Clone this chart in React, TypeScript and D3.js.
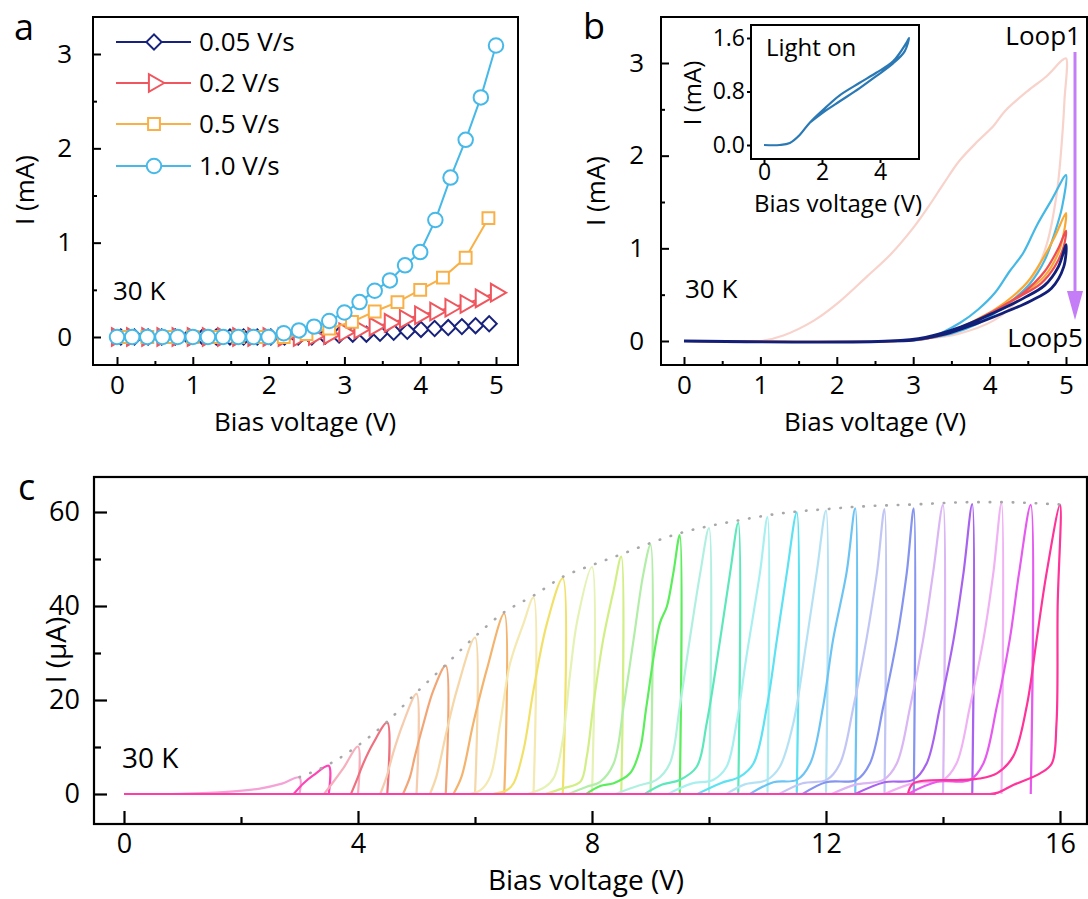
import React, { useRef, useEffect } from "react";
import * as d3 from "d3";

const FONT = "'Open Sans', sans-serif";

// ---------- panel a : I-V at different sweep rates ----------
const rateLabels = ["0.05 V/s", "0.2 V/s", "0.5 V/s", "1.0 V/s"];
const rateColors = ["#17227c", "#f0565e", "#f9b046", "#46b9e8"];
const rateSymbols = ["diamond", "triangle", "square", "circle"];

const diamondV = [0.05, 0.23, 0.41, 0.59, 0.77, 0.95, 1.13, 1.31, 1.49, 1.67, 1.85, 2.03, 2.21, 2.39, 2.57, 2.75, 2.93, 3.11, 3.29, 3.47, 3.65, 3.83, 4.01, 4.19, 4.37, 4.55, 4.73, 4.91];
const diamondI = [0, 0, 0, 0, 0, 0, 0, 0, 0, 0, 0, 0, 0, 0, 0, 0.01, 0.02, 0.03, 0.03, 0.04, 0.05, 0.06, 0.08, 0.09, 0.1, 0.11, 0.12, 0.14];
const triangleV = [0, 0.2, 0.4, 0.6, 0.8, 1.0, 1.2, 1.4, 1.6, 1.8, 2.0, 2.2, 2.4, 2.6, 2.8, 3.0, 3.2, 3.4, 3.6, 3.8, 4.0, 4.2, 4.4, 4.6, 4.8, 5.0];
const triangleI = [0, 0, 0, 0, 0, 0, 0, 0, 0, 0, 0, 0, 0, 0.01, 0.02, 0.05, 0.08, 0.11, 0.15, 0.19, 0.23, 0.27, 0.31, 0.35, 0.41, 0.47];
const squareV = [0.1, 0.4, 0.7, 1.0, 1.3, 1.6, 1.9, 2.2, 2.5, 2.8, 3.1, 3.4, 3.7, 4.0, 4.3, 4.6, 4.9];
const squareI = [0, 0, 0, 0, 0, 0, 0, 0, 0.03, 0.09, 0.16, 0.27, 0.37, 0.5, 0.63, 0.84, 1.26];
const circleV = [0, 0.2, 0.4, 0.6, 0.8, 1.0, 1.2, 1.4, 1.6, 1.8, 2.0, 2.2, 2.4, 2.6, 2.8, 3.0, 3.2, 3.4, 3.6, 3.8, 4.0, 4.2, 4.4, 4.6, 4.8, 5.0];
const circleI = [0, 0, 0, 0, 0, 0, 0, 0, 0, 0, 0, 0.04, 0.07, 0.11, 0.17, 0.26, 0.37, 0.49, 0.6, 0.76, 0.9, 1.24, 1.69, 2.09, 2.54, 3.09];

// ---------- panel b : five consecutive loops ----------
const loopNames = ["Loop1", "Loop2", "Loop3", "Loop4", "Loop5"];
const loopColors = ["#f7d3cb", "#45b8e6", "#f8a935", "#ee4d53", "#121f78"];
const loop1 = [[0, 0], [1.0, 0], [1.3, 0.06], [1.7, 0.22], [2.0, 0.4], [2.4, 0.7], [2.7, 0.93], [3.0, 1.22], [3.2, 1.45], [3.4, 1.7], [3.6, 1.94], [3.85, 2.16], [4.05, 2.32], [4.2, 2.48], [4.5, 2.7], [4.75, 2.86], [4.95, 3.03], [5.0, 3.05], [4.98, 2.6], [4.95, 2.2], [4.88, 1.6], [4.75, 1.05], [4.55, 0.65], [4.3, 0.38], [4.05, 0.22], [3.6, 0.08], [3.1, 0.02], [2.7, 0]];
const loop2 = [[0, 0], [2.8, 0], [3.2, 0.03], [3.62, 0.2], [3.85, 0.34], [4.07, 0.52], [4.26, 0.75], [4.44, 0.95], [4.62, 1.25], [4.81, 1.52], [5.0, 1.79], [4.95, 1.45], [4.85, 1.16], [4.72, 0.87], [4.53, 0.62], [4.3, 0.44], [4.07, 0.3], [3.85, 0.19], [3.5, 0.08], [3.0, 0.01], [2.8, 0]];
const loop3 = [[0, 0], [2.8, 0], [3.2, 0.03], [3.6, 0.14], [3.85, 0.24], [4.07, 0.34], [4.3, 0.48], [4.5, 0.64], [4.67, 0.85], [4.85, 1.12], [5.0, 1.38], [4.97, 1.16], [4.9, 0.95], [4.72, 0.7], [4.44, 0.51], [4.07, 0.33], [3.7, 0.16], [3.3, 0.05], [2.9, 0]];
const loop4 = [[0, 0], [2.8, 0], [3.2, 0.03], [3.62, 0.14], [4.07, 0.33], [4.44, 0.52], [4.72, 0.75], [4.9, 1.0], [5.0, 1.19], [4.97, 1.02], [4.85, 0.8], [4.67, 0.62], [4.35, 0.46], [4.0, 0.3], [3.6, 0.13], [3.2, 0.03], [2.8, 0]];
const loop5 = [[0, 0], [2.7, 0], [3.16, 0.04], [3.62, 0.15], [4.07, 0.31], [4.44, 0.46], [4.72, 0.6], [4.9, 0.8], [5.0, 1.04], [4.97, 0.8], [4.81, 0.57], [4.53, 0.43], [4.17, 0.3], [3.8, 0.18], [3.4, 0.07], [3.0, 0.01], [2.7, 0]];
const loopsB = [loop1, loop2, loop3, loop4, loop5];

// inset: light on
const insetLoop = [[0, 0], [0.54, 0], [0.89, 0.03], [1.23, 0.15], [1.57, 0.33], [2.15, 0.57], [2.6, 0.74], [3.3, 0.93], [3.87, 1.08], [4.45, 1.25], [4.9, 1.52], [5.0, 1.6], [4.85, 1.4], [4.45, 1.22], [3.87, 1.03], [3.3, 0.85], [2.6, 0.65], [2.15, 0.52], [1.57, 0.33]];

// ---------- panel c : loops with increasing max bias ----------
const cMaxV = [3.0, 3.5, 4.0, 4.5, 5.0, 5.5, 6.0, 6.5, 7.0, 7.5, 8.0, 8.5, 9.0, 9.5, 10.0, 10.5, 11.0, 11.5, 12.0, 12.5, 13.0, 13.5, 14.0, 14.5, 15.0, 15.5, 16.0];
const cColors = ["#f5a3d6", "#ff45b5", "#f6b0bd", "#ee717f", "#f5ccae", "#f2a676", "#f5d7a8", "#f4b46e", "#f4e9b0", "#f2e169", "#e4f2b4", "#d2ef86", "#b2eea8", "#5bee5b", "#b0f0e0", "#5de8bc", "#a8f0f0", "#5ce2f2", "#b4e2f4", "#6cc4f4", "#c2c6f4", "#8494ef", "#dab6f4", "#a862f0", "#f0b2f4", "#e65af0", "#ff3399"];
const cLoops = [
  [[0.8, 0], [1.7, 0.4], [2.3, 1.1], [2.7, 2.2], [3.0, 3.5], [3.0, 0]],
  [[2.9, 0], [3.07, 2.3], [3.24, 4.0], [3.5, 6.0], [3.5, 0]],
  [[3.42, 0], [3.58, 2.6], [3.75, 5.5], [4.0, 10.1], [4.0, 0]],
  [[3.88, 0], [3.98, 3.0], [4.09, 6.5], [4.26, 10.8], [4.5, 15.2], [4.5, 0]],
  [[4.38, 0], [4.49, 3.7], [4.6, 8.7], [4.77, 15.0], [5.0, 21.3], [5.0, 0]],
  [[4.77, 0], [4.89, 3.7], [4.97, 7.9], [5.12, 15.0], [5.29, 22.1], [5.5, 27.3], [5.5, 0]],
  [[5.23, 0], [5.34, 3.7], [5.52, 13.6], [5.69, 22.1], [6.0, 33.3], [6.0, 0]],
  [[5.63, 0], [5.77, 3.7], [5.97, 15.0], [6.2, 26.4], [6.5, 38.4], [6.5, 0]],
  [[5.9, 0], [6.1, 0.9], [6.26, 3.7], [6.43, 15.0], [6.6, 27.8], [6.83, 36.3], [7.0, 41.8], [7.0, 0]],
  [[6.3, 0], [6.54, 0.8], [6.66, 2.3], [6.83, 9.4], [7.0, 22.1], [7.23, 36.3], [7.5, 45.9], [7.5, 0]],
  [[6.9, 0], [7.2, 1.5], [7.35, 3.5], [7.5, 11.5], [7.62, 25.0], [7.75, 37.0], [8.0, 48.3], [8.0, 0]],
  [[7.2, 0], [7.5, 1.2], [7.8, 2.6], [7.91, 7.9], [8.02, 18.6], [8.19, 32.8], [8.37, 43.4], [8.5, 50.5], [8.5, 0]],
  [[7.6, 0], [7.9, 1.5], [8.14, 2.6], [8.37, 6.5], [8.54, 18.6], [8.71, 32.8], [8.88, 47.0], [9.0, 53.0], [9.0, 0]],
  [[7.9, 0], [8.14, 1.7], [8.37, 2.3], [8.65, 4.4], [8.82, 9.4], [8.93, 18.6], [9.16, 36.3], [9.28, 39.9], [9.39, 47.0], [9.5, 55.1], [9.5, 0]],
  [[8.4, 0], [8.8, 1.8], [9.1, 3.0], [9.33, 6.5], [9.5, 18.6], [9.67, 32.8], [9.85, 47.0], [10.0, 56.6], [10.0, 0]],
  [[8.9, 0], [9.2, 2.0], [9.5, 3.0], [9.79, 5.8], [9.96, 15.0], [10.19, 32.8], [10.36, 47.0], [10.5, 57.7], [10.5, 0]],
  [[9.3, 0], [9.7, 2.2], [10.07, 3.0], [10.3, 5.8], [10.47, 15.0], [10.64, 29.2], [10.87, 47.0], [11.0, 58.9], [11.0, 0]],
  [[9.8, 0], [10.2, 2.3], [10.53, 3.7], [10.76, 6.5], [10.99, 18.6], [11.16, 32.8], [11.33, 47.0], [11.5, 59.9], [11.5, 0]],
  [[10.3, 0], [10.6, 2.0], [10.99, 3.0], [11.21, 5.8], [11.44, 15.0], [11.67, 32.8], [11.84, 47.0], [12.0, 60.3], [12.0, 0]],
  [[10.7, 0], [11.1, 2.5], [11.5, 3.0], [11.73, 6.5], [11.95, 18.6], [12.12, 32.8], [12.35, 47.0], [12.5, 60.8], [12.5, 0]],
  [[11.2, 0], [11.6, 2.3], [12.01, 3.0], [12.24, 6.5], [12.47, 18.6], [12.69, 32.8], [12.87, 47.0], [13.0, 60.6], [13.0, 0]],
  [[11.6, 0], [12.0, 2.5], [12.52, 3.0], [12.75, 6.5], [12.98, 18.6], [13.21, 32.8], [13.38, 47.0], [13.5, 60.8], [13.5, 0]],
  [[12.1, 0], [12.5, 2.0], [12.98, 3.0], [13.21, 6.5], [13.44, 18.6], [13.66, 32.8], [13.83, 47.0], [14.0, 61.5], [14.0, 0]],
  [[12.5, 0], [13.0, 2.5], [13.49, 3.0], [13.72, 6.5], [13.95, 18.6], [14.18, 32.8], [14.35, 47.0], [14.5, 61.7], [14.5, 0]],
  [[13.0, 0], [13.5, 2.3], [14.0, 3.0], [14.23, 6.5], [14.46, 18.6], [14.69, 32.8], [14.86, 47.0], [15.0, 61.9], [15.0, 0]],
  [[13.4, 0], [13.9, 2.6], [14.46, 3.0], [14.69, 6.5], [14.92, 18.6], [15.14, 32.8], [15.3, 47.0], [15.5, 61.5], [15.5, 0]],
  [[13.4, 0], [13.5, 2.3], [14.3, 3.0], [14.63, 3.3], [14.92, 4.4], [15.2, 8.0], [15.43, 18.6], [15.6, 32.8], [15.77, 47.0], [16.0, 61.5], [15.96, 40.0], [15.94, 15.0], [15.86, 6.5], [15.66, 4.4], [15.2, 1.9], [14.94, 0.3], [14.8, 0]],
];
const cBaseline = [[0, 0], [14.9, 0]];
const cEnvelope = [[3.0, 3.6], [3.5, 6.3], [4.0, 10.3], [4.5, 15.4], [5.0, 21.6], [5.5, 27.5], [6.0, 33.5], [6.5, 38.7], [7.0, 42.2], [7.5, 46.2], [8.0, 48.7], [8.5, 51.0], [9.0, 53.4], [9.5, 55.5], [10.0, 57.0], [10.5, 58.2], [11.0, 59.3], [11.5, 60.1], [12.0, 60.6], [12.5, 61.1], [13.0, 61.4], [13.5, 61.6], [14.0, 61.9], [14.5, 62.1], [15.0, 62.1], [15.5, 61.9], [16.0, 61.6]];

type Box = { l: number; r: number; t: number; b: number };

function drawFrame(g: any, box: Box, x: any, y: any, o: any) {
  g.append("rect")
    .attr("x", box.l).attr("y", box.t)
    .attr("width", box.r - box.l).attr("height", box.b - box.t)
    .attr("fill", o.fill || "none").attr("stroke", "#000").attr("stroke-width", o.sw);

  const styleAxis = (sel: any) => {
    sel.select(".domain").remove();
    sel.selectAll("line").attr("stroke", "#000").attr("stroke-width", o.sw);
    sel.selectAll("text").attr("fill", "#000").attr("font-family", FONT).attr("font-size", o.fs);
  };

  const xMaj = d3.axisBottom(x).tickValues(o.xMajor).tickSize(o.inward ? -o.major : o.major).tickPadding(o.xPad).tickFormat(o.xFmt || d3.format("d"));
  g.append("g").attr("transform", `translate(0,${box.b})`).call(xMaj).call(styleAxis);
  if (o.xMinor) {
    const xMin = d3.axisBottom(x).tickValues(o.xMinor).tickSize(-o.minor).tickFormat(() => "");
    g.append("g").attr("transform", `translate(0,${box.b})`).call(xMin).call(styleAxis);
  }
  const yMaj = d3.axisLeft(y).tickValues(o.yMajor).tickSize(o.inward ? -o.major : o.major).tickPadding(o.yPad).tickFormat(o.yFmt || d3.format("d"));
  g.append("g").attr("transform", `translate(${box.l},0)`).call(yMaj).call(styleAxis);
  if (o.yMinor) {
    const yMin = d3.axisLeft(y).tickValues(o.yMinor).tickSize(-o.minor).tickFormat(() => "");
    g.append("g").attr("transform", `translate(${box.l},0)`).call(yMin).call(styleAxis);
  }
}

function label(g: any, txt: string, x: number, y: number, fs: number, anchor = "start", rotate = false) {
  const t = g.append("text")
    .attr("font-family", FONT).attr("font-size", fs).attr("fill", "#000")
    .attr("text-anchor", anchor).text(txt);
  if (rotate) t.attr("transform", `translate(${x},${y}) rotate(-90)`);
  else t.attr("x", x).attr("y", y);
  return t;
}

function markerPath(kind: string) {
  if (kind === "diamond") return { d: d3.symbol(d3.symbolSquare, 115)(), rot: 45 };
  if (kind === "triangle") return { d: d3.symbol(d3.symbolTriangle, 135)(), rot: 90 };
  if (kind === "square") return { d: d3.symbol(d3.symbolSquare, 140)(), rot: 0 };
  return { d: d3.symbol(d3.symbolCircle, 165)(), rot: 0 };
}

function App() {
  const svgRef = useRef(null);

  useEffect(() => {
    const svg = d3.select(svgRef.current);
    svg.selectAll("*").remove();
    const root = svg.append("g");

    // ================= panel a =================
    const ga = root.append("g");
    const boxA = { l: 93, r: 518, t: 17, b: 365 };
    const xa = d3.scaleLinear().domain([0, 5]).range([117, 496]);
    const ya = d3.scaleLinear().domain([0, 3]).range([337, 54]);
    drawFrame(ga, boxA, xa, ya, {
      sw: 2, fs: 26, inward: true, major: 8, minor: 4,
      xMajor: [0, 1, 2, 3, 4, 5], xMinor: [0.5, 1.5, 2.5, 3.5, 4.5], xPad: 11,
      yMajor: [0, 1, 2, 3], yMinor: [0.5, 1.5, 2.5], yPad: 21,
    });
    const seriesA = [
      { v: diamondV, i: diamondI },
      { v: triangleV, i: triangleI },
      { v: squareV, i: squareI },
      { v: circleV, i: circleI },
    ];
    const lineA = d3.line<number[]>().x((d) => xa(d[0])).y((d) => ya(d[1]));
    seriesA.forEach((s, k) => {
      const pts = s.v.map((v, j) => [v, s.i[j]]);
      ga.append("path").datum(pts).attr("d", lineA)
        .attr("fill", "none").attr("stroke", rateColors[k]).attr("stroke-width", 2);
      const m = markerPath(rateSymbols[k]);
      ga.append("g").selectAll("path").data(pts).enter().append("path")
        .attr("d", m.d)
        .attr("transform", (d: number[]) => `translate(${xa(d[0])},${ya(d[1])}) rotate(${m.rot})`)
        .attr("fill", "#fff").attr("stroke", rateColors[k]).attr("stroke-width", 2);
    });
    // legend
    const legY = [42, 83, 124, 166];
    rateLabels.forEach((name, k) => {
      ga.append("line").attr("x1", 116).attr("x2", 191).attr("y1", legY[k]).attr("y2", legY[k])
        .attr("stroke", rateColors[k]).attr("stroke-width", 2);
      const m = markerPath(rateSymbols[k]);
      ga.append("path").attr("d", m.d)
        .attr("transform", `translate(154,${legY[k]}) rotate(${m.rot})`)
        .attr("fill", "#fff").attr("stroke", rateColors[k]).attr("stroke-width", 2);
      label(ga, name, 199, legY[k], 26).attr("dy", "0.35em");
    });
    label(ga, "30 K", 113, 300, 26);
    label(ga, "Bias voltage (V)", 305, 431, 26, "middle");
    label(ga, "I (mA)", 34, 190, 26, "middle", true);
    label(ga, "a", 14, 40, 36);

    // ================= panel b =================
    const gb = root.append("g");
    const boxB = { l: 661, r: 1087, t: 17, b: 365 };
    const xb = d3.scaleLinear().domain([0, 5]).range([684, 1066]);
    const yb = d3.scaleLinear().domain([0, 3]).range([341, 63]);
    drawFrame(gb, boxB, xb, yb, {
      sw: 2, fs: 26, inward: true, major: 8, minor: 4,
      xMajor: [0, 1, 2, 3, 4, 5], xMinor: [0.5, 1.5, 2.5, 3.5, 4.5], xPad: 11,
      yMajor: [0, 1, 2, 3], yMinor: [0.5, 1.5, 2.5], yPad: 17,
    });
    const lineB = d3.line<number[]>().x((d) => xb(d[0])).y((d) => yb(d[1])).curve(d3.curveCatmullRom.alpha(0.5));
    loopsB.forEach((pts, k) => {
      gb.append("path").datum(pts).attr("d", lineB)
        .attr("fill", "none").attr("stroke", loopColors[k])
        .attr("stroke-width", k === 4 ? 2.8 : 2.2).attr("stroke-linejoin", "round");
    });
    label(gb, "30 K", 685, 298, 26);
    label(gb, "Bias voltage (V)", 875, 431, 26, "middle");
    label(gb, "I (mA)", 605, 191, 26, "middle", true);
    label(gb, "b", 583, 39, 36);
    label(gb, loopNames[0], 1081, 45, 26, "end");
    label(gb, loopNames[4], 1083, 347, 26, "end");
    gb.append("line").attr("x1", 1075).attr("x2", 1075).attr("y1", 52).attr("y2", 294)
      .attr("stroke", "#c47cf7").attr("stroke-width", 3);
    gb.append("path").attr("d", "M1067,291 L1083,291 L1075,320 Z").attr("fill", "#c47cf7");

    // inset
    const gi = gb.append("g");
    const boxI = { l: 751, r: 919, t: 25, b: 159 };
    const xi = d3.scaleLinear().domain([0, 5]).range([764, 909]);
    const yi = d3.scaleLinear().domain([0, 1.6]).range([145, 38]);
    drawFrame(gi, boxI, xi, yi, {
      sw: 2, fs: 23, inward: false, major: 4, fill: "#fff",
      xMajor: [0, 2, 4], xPad: 1,
      yMajor: [0, 0.8, 1.6], yPad: 2, yFmt: d3.format(".1f"),
    });
    const lineI = d3.line<number[]>().x((d) => xi(d[0])).y((d) => yi(d[1])).curve(d3.curveCatmullRom.alpha(0.5));
    gi.append("path").datum(insetLoop).attr("d", lineI)
      .attr("fill", "none").attr("stroke", "#2a78b4").attr("stroke-width", 2.2);
    label(gi, "Light on", 766, 56, 24);
    label(gi, "Bias voltage (V)", 838, 212, 24, "middle");
    label(gi, "I (mA)", 701, 93, 24, "middle", true);

    // ================= panel c =================
    const gc = root.append("g");
    const boxC = { l: 94, r: 1087, t: 477, b: 824 };
    const xc = d3.scaleLinear().domain([0, 16]).range([124, 1060]);
    const yc = d3.scaleLinear().domain([0, 60]).range([794, 512]);
    drawFrame(gc, boxC, xc, yc, {
      sw: 2.2, fs: 27, inward: true, major: 13, minor: 7,
      xMajor: [0, 4, 8, 12, 16], xMinor: [2, 6, 10, 14], xPad: 10,
      yMajor: [0, 20, 40, 60], yMinor: [10, 30, 50], yPad: 14,
    });
    const lineC = d3.line<number[]>().x((d) => xc(d[0])).y((d) => yc(d[1])).curve(d3.curveCatmullRom.alpha(0.5));
    cLoops.forEach((pts, k) => {
      gc.append("path").datum(pts).attr("d", lineC)
        .attr("fill", "none").attr("stroke", cColors[k]).attr("stroke-width", 2.2)
        .attr("stroke-linejoin", "round").attr("data-vmax", cMaxV[k]);
    });
    gc.append("path").datum(cBaseline).attr("d", lineC)
      .attr("fill", "none").attr("stroke", "#ff3da8").attr("stroke-width", 2.2);
    gc.append("path").datum(cEnvelope).attr("d", d3.line<number[]>().x((d) => xc(d[0])).y((d) => yc(d[1])).curve(d3.curveMonotoneX))
      .attr("fill", "none").attr("stroke", "#a8a8a8").attr("stroke-width", 2.6)
      .attr("stroke-linecap", "round").attr("stroke-dasharray", "0.5 11");
    label(gc, "30 K", 122, 768, 28);
    label(gc, "Bias voltage (V)", 586, 890, 28, "middle");
    label(gc, "I (\u03bcA)", 66, 650, 28, "middle", true);
    label(gc, "c", 18, 500, 36);
  }, []);

  return (
    <svg ref={svgRef} width={1088} height={899}
      style={{ position: "absolute", left: 0, top: 0, background: "#fff" }} />
  );
}

export default App;
